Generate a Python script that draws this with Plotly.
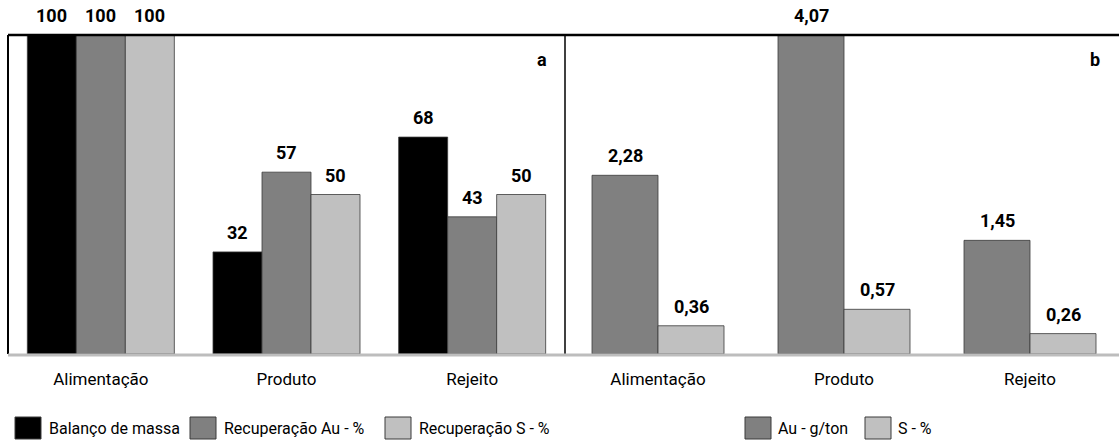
import plotly.graph_objects as go

# ---- data -------------------------------------------------------------
categories = ["Alimentação", "Produto", "Rejeito"]

# panel a: mass balance and recoveries (%)
series_a_names = ["Balanço de massa", "Recuperação Au - %", "Recuperação S - %"]
balanco_massa = [100, 32, 68]
recuperacao_au = [100, 57, 43]
recuperacao_s = [100, 50, 50]

# panel b: grades
series_b_names = ["Au - g/ton", "S - %"]
teor_au = [2.28, 4.07, 1.45]
teor_s = [0.36, 0.57, 0.26]

# ---- styling ----------------------------------------------------------
W, H = 1119, 443
L_PX, T_PX, BOT_PX = 8, 35, 354
PLOT_W = W - L_PX
PLOT_H = BOT_PX - T_PX
SPLIT_PX = 565
FONT = "Roboto"
COLORS_A = ["#000000", "#808080", "#c0c0c0"]
COLORS_B = ["#808080", "#c0c0c0"]
OUTLINE = "#3a3a3a"


def xp(px):
    return (px - L_PX) / PLOT_W


def yp(py):
    return (BOT_PX - py) / PLOT_H


split = xp(SPLIT_PX)
cat_px_a = (SPLIT_PX - L_PX) / 3
cat_px_b = 186.0
right_max = -0.5 + (W - SPLIT_PX) / cat_px_b

bw_a = 49 / cat_px_a
bw_b = 66 / cat_px_b

fig = go.Figure()
annotations = []

vals_a = [balanco_massa, recuperacao_au, recuperacao_s]
for i, (name, vals, col) in enumerate(zip(series_a_names, vals_a, COLORS_A)):
    off = (-1.5 + i) * bw_a
    fig.add_trace(go.Bar(
        x=categories, y=vals, name=name, width=bw_a, offset=off,
        marker=dict(color=col, line=dict(color=OUTLINE, width=0.8)),
        xaxis="x", yaxis="y", showlegend=False,
    ))
    for c, v in zip(categories, vals):
        annotations.append(dict(
            x=c, y=v, xref="x", yref="y", text=f"{v:d}", showarrow=False,
            xanchor="center", yanchor="bottom",
            xshift=(off + bw_a / 2) * cat_px_a, yshift=7,
            font=dict(family=FONT, size=18, color="black", weight="bold"),
        ))

vals_b = [teor_au, teor_s]
for i, (name, vals, col) in enumerate(zip(series_b_names, vals_b, COLORS_B)):
    off = (-1 + i) * bw_b
    fig.add_trace(go.Bar(
        x=categories, y=vals, name=name, width=bw_b, offset=off,
        marker=dict(color=col, line=dict(color=OUTLINE, width=0.8)),
        xaxis="x2", yaxis="y2", showlegend=False,
    ))
    for c, v in zip(categories, vals):
        annotations.append(dict(
            x=c, y=v, xref="x2", yref="y2",
            text=f"{v:.2f}".replace(".", ","), showarrow=False,
            xanchor="center", yanchor="bottom",
            xshift=(off + bw_b / 2) * cat_px_b, yshift=7,
            font=dict(family=FONT, size=18, color="black", weight="bold"),
        ))

# panel letters
for letter, px in (("a", 542), ("b", 1095)):
    annotations.append(dict(
        x=xp(px), y=yp(60), xref="paper", yref="paper", text=letter,
        showarrow=False, xanchor="center", yanchor="middle",
        font=dict(family=FONT, size=18, color="black", weight="bold"),
    ))

shapes = [
    # frame: top, left, divider, baseline
    dict(type="line", xref="paper", yref="paper", x0=0, x1=1, y0=1, y1=1,
         line=dict(color="black", width=2.5), layer="above"),
    dict(type="line", xref="paper", yref="paper", x0=0, x1=0, y0=0, y1=1,
         line=dict(color="black", width=2), layer="above"),
    dict(type="line", xref="paper", yref="paper", x0=split, x1=split, y0=yp(356), y1=1,
         line=dict(color="black", width=1.5), layer="above"),
    dict(type="line", xref="paper", yref="paper", x0=0, x1=1, y0=yp(355), y1=yp(355),
         line=dict(color="#bdbdbd", width=3), layer="above"),
]

# legends drawn as swatches + labels
legend_items = [
    (series_a_names[0], COLORS_A[0], 15, 47),
    (series_a_names[1], COLORS_A[1], 190, 222),
    (series_a_names[2], COLORS_A[2], 385, 417),
    (series_b_names[0], COLORS_B[0], 745, 776),
    (series_b_names[1], COLORS_B[1], 865, 896),
]
for name, col, bx, tx in legend_items:
    shapes.append(dict(
        type="rect", xref="paper", yref="paper",
        x0=xp(bx), x1=xp(bx + 26), y0=yp(439), y1=yp(417),
        fillcolor=col, line=dict(color=OUTLINE, width=1),
    ))
    annotations.append(dict(
        x=xp(tx), y=yp(428), xref="paper", yref="paper", text=name,
        showarrow=False, xanchor="left", yanchor="middle",
        font=dict(family=FONT, size=16, color="black"),
    ))

axis_common = dict(
    type="category", showgrid=False, zeroline=False, showline=False,
    ticks="", tickfont=dict(family=FONT, size=17, color="black"),
    ticklabelstandoff=13,
)
yaxis_common = dict(showgrid=False, zeroline=False, showline=False,
                    showticklabels=False, ticks="")

fig.update_layout(
    width=W, height=H,
    margin=dict(l=L_PX, r=0, t=T_PX, b=H - BOT_PX),
    paper_bgcolor="white", plot_bgcolor="white",
    font=dict(family=FONT),
    barmode="overlay",
    xaxis=dict(domain=[0, split], range=[-0.5, 2.5], anchor="y", **axis_common),
    xaxis2=dict(domain=[split, 1], range=[-0.5, right_max], anchor="y2", **axis_common),
    yaxis=dict(range=[0, max(balanco_massa + recuperacao_au + recuperacao_s)],
               anchor="x", **yaxis_common),
    yaxis2=dict(range=[0, max(teor_au + teor_s)], anchor="x2", **yaxis_common),
    shapes=shapes,
    annotations=annotations,
    showlegend=False,
)
fig.update_traces(cliponaxis=False)

fig.write_html("out.html")
